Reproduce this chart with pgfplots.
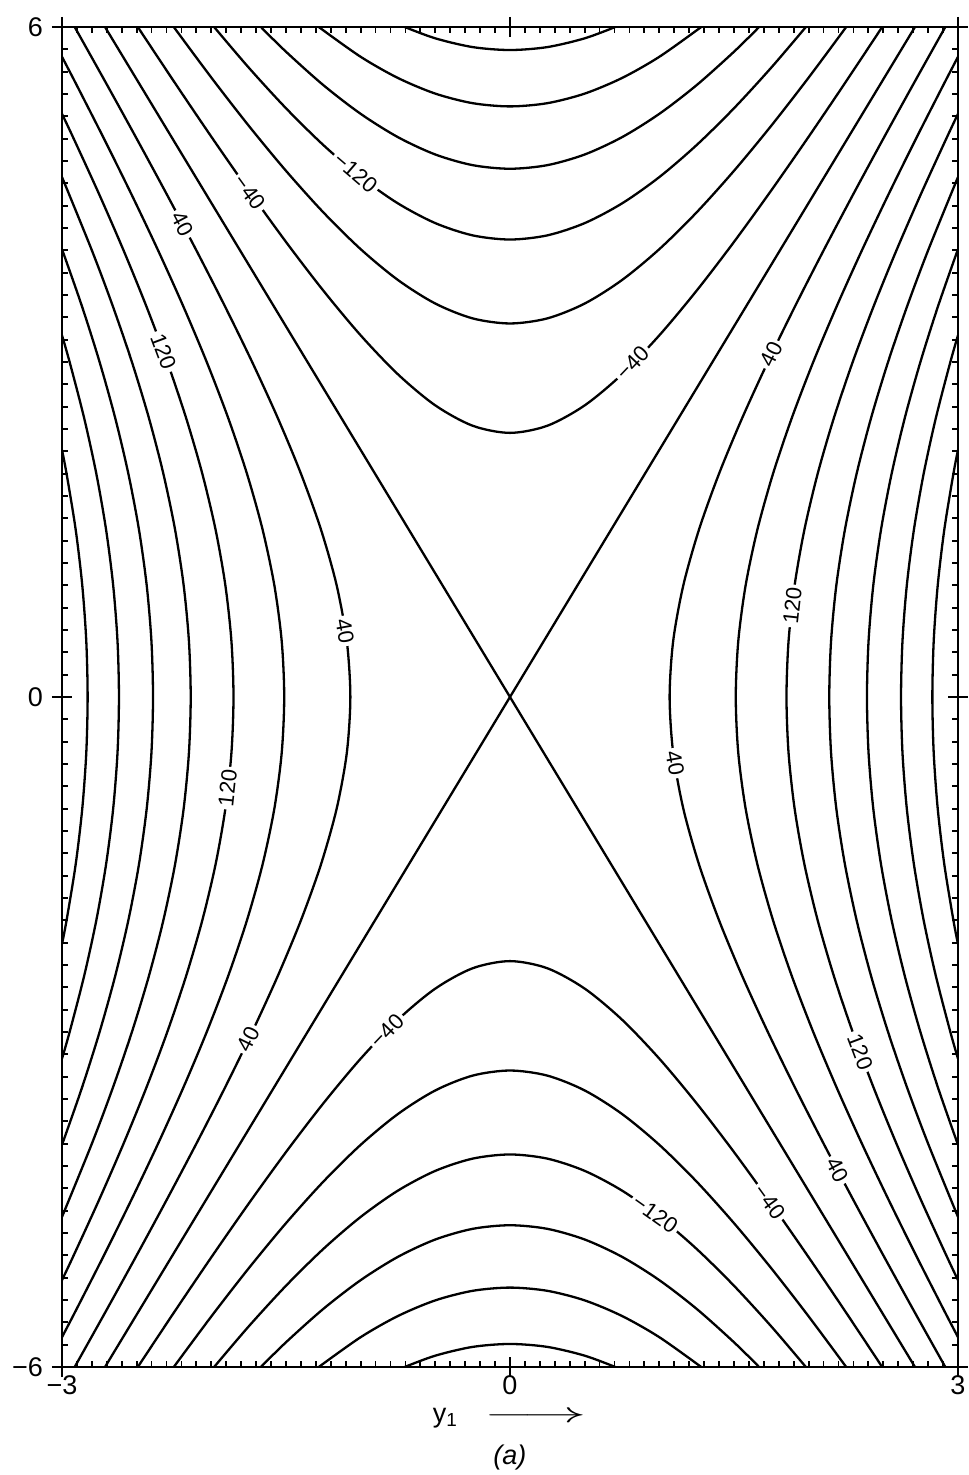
\documentclass[border=0pt]{standalone}
\usepackage{pgfplots}
\pgfplotsset{compat=1.18}
\usepackage{fontspec}
\setmainfont{Liberation Sans}
\usepackage{graphicx}

% contour label on a level curve
\tikzset{clab/.style={sloped, fill=white, inner sep=1.5pt, text=black,
  font=\fontsize{11}{12}\selectfont}}

\begin{document}
\begin{tikzpicture}
\begin{axis}[
  scale only axis,
  width=448pt, height=670pt,
  xmin=-3, xmax=3, ymin=-6, ymax=6,
  axis line style={line width=1.3pt},
  xtick={-3,0,3}, xticklabels={−3,0,3},
  ytick={-6,0,6}, yticklabels={−6,0,6},
  minor x tick num=29, minor y tick num=29,
  tick align=inside,
  major tick length=5pt, minor tick length=3pt,
  tick style={line width=0.9pt, black},
  extra x ticks={-3,0,3}, extra x tick labels={},
  extra x tick style={tick align=outside},
  extra y ticks={-6,0,6}, extra y tick labels={},
  extra y tick style={tick align=outside},
  ticklabel style={font=\fontsize{13.5}{15}\selectfont},
  xticklabel style={yshift=-1pt},
  yticklabel style={xshift=-6pt},
  xlabel={y\textsubscript{1}\quad\scalebox{2.2}[1]{$\longrightarrow$}\\[6pt]\textit{(a)}},
  xlabel style={align=center, font=\fontsize{13.5}{15}\selectfont, yshift=5.5pt},
  every axis plot post/.append style={black, solid, line width=1.15pt, smooth, mark=none},
]

% ---- positive levels, side branches (y1 as function of y2) ----
% level 40
\addplot coordinates {(-2.9150,-6) (-2.7060,-5.5) (-2.5000,-5) (-2.2977,-4.5) (-2.1003,-4) (-1.9093,-3.5) (-1.7267,-3) (-1.5555,-2.5) (-1.4000,-2) (-1.2659,-1.5) (-1.1607,-1) (-1.0927,-0.5) (-1.0690,0) (-1.0927,0.5) (-1.1607,1) (-1.2659,1.5) (-1.4000,2) (-1.5555,2.5) (-1.7267,3) (-1.9093,3.5) (-2.1003,4) (-2.2977,4.5) (-2.5000,5) (-2.7060,5.5) (-2.9150,6)}
  node[clab, pos=0.25] {40} node[clab, pos=0.547] {40} node[clab, pos=0.849] {40};
\addplot coordinates {(2.9150,-6) (2.7060,-5.5) (2.5000,-5) (2.2977,-4.5) (2.1003,-4) (1.9093,-3.5) (1.7267,-3) (1.5555,-2.5) (1.4000,-2) (1.2659,-1.5) (1.1607,-1) (1.0927,-0.5) (1.0690,0) (1.0927,0.5) (1.1607,1) (1.2659,1.5) (1.4000,2) (1.5555,2.5) (1.7267,3) (1.9093,3.5) (2.1003,4) (2.2977,4.5) (2.5000,5) (2.7060,5.5) (2.9150,6)}
  node[clab, pos=0.151] {40} node[clab, pos=0.453] {40} node[clab, pos=0.75] {40};
% level 80
\addplot coordinates {(-3,-5.733) (-2.9095,-5.5) (-2.7190,-5) (-2.5343,-4.5) (-2.3567,-4) (-2.1882,-3.5) (-2.0308,-3) (-1.8875,-2.5) (-1.7615,-2) (-1.6569,-1.5) (-1.5780,-1) (-1.5287,-0.5) (-1.5119,0) (-1.5287,0.5) (-1.5780,1) (-1.6569,1.5) (-1.7615,2) (-1.8875,2.5) (-2.0308,3) (-2.1882,3.5) (-2.3567,4) (-2.5343,4.5) (-2.7190,5) (-2.9095,5.5) (-3,5.733)};
\addplot coordinates {(3,-5.733) (2.9095,-5.5) (2.7190,-5) (2.5343,-4.5) (2.3567,-4) (2.1882,-3.5) (2.0308,-3) (1.8875,-2.5) (1.7615,-2) (1.6569,-1.5) (1.5780,-1) (1.5287,-0.5) (1.5119,0) (1.5287,0.5) (1.5780,1) (1.6569,1.5) (1.7615,2) (1.8875,2.5) (2.0308,3) (2.1882,3.5) (2.3567,4) (2.5343,4.5) (2.7190,5) (2.9095,5.5) (3,5.733)};
% level 120
\addplot coordinates {(-3,-5.2223) (-2.9216,-5) (-2.7505,-4.5) (-2.5879,-4) (-2.4354,-3.5) (-2.2950,-3) (-2.1692,-2.5) (-2.0605,-2) (-1.9718,-1.5) (-1.9060,-1) (-1.8654,-0.5) (-1.8516,0) (-1.8654,0.5) (-1.9060,1) (-1.9718,1.5) (-2.0605,2) (-2.1692,2.5) (-2.2950,3) (-2.4354,3.5) (-2.5879,4) (-2.7505,4.5) (-2.9216,5) (-3,5.2223)}
  node[clab, pos=0.424] {120} node[clab, pos=0.792] {120};
\addplot coordinates {(3,-5.2223) (2.9216,-5) (2.7505,-4.5) (2.5879,-4) (2.4354,-3.5) (2.2950,-3) (2.1692,-2.5) (2.0605,-2) (1.9718,-1.5) (1.9060,-1) (1.8654,-0.5) (1.8516,0) (1.8654,0.5) (1.9060,1) (1.9718,1.5) (2.0605,2) (2.1692,2.5) (2.2950,3) (2.4354,3.5) (2.5879,4) (2.7505,4.5) (2.9216,5) (3,5.2223)}
  node[clab, pos=0.20] {120} node[clab, pos=0.576] {120};
% level 160
\addplot coordinates {(-3,-4.656) (-2.8000,-4) (-2.6597,-3.5) (-2.5318,-3) (-2.4183,-2.5) (-2.3213,-2) (-2.2430,-1.5) (-2.1853,-1) (-2.1500,-0.5) (-2.1381,0) (-2.1500,0.5) (-2.1853,1) (-2.2430,1.5) (-2.3213,2) (-2.4183,2.5) (-2.5318,3) (-2.6597,3.5) (-2.8000,4) (-3,4.656)};
\addplot coordinates {(3,-4.656) (2.8000,-4) (2.6597,-3.5) (2.5318,-3) (2.4183,-2.5) (2.3213,-2) (2.2430,-1.5) (2.1853,-1) (2.1500,-0.5) (2.1381,0) (2.1500,0.5) (2.1853,1) (2.2430,1.5) (2.3213,2) (2.4183,2.5) (2.5318,3) (2.6597,3.5) (2.8000,4) (3,4.656)};
% level 200
\addplot coordinates {(-3,-4.0105) (-2.8665,-3.5) (-2.7483,-3) (-2.6440,-2.5) (-2.5557,-2) (-2.4847,-1.5) (-2.4328,-1) (-2.4011,-0.5) (-2.3905,0) (-2.4011,0.5) (-2.4328,1) (-2.4847,1.5) (-2.5557,2) (-2.6440,2.5) (-2.7483,3) (-2.8665,3.5) (-3,4.0105)};
\addplot coordinates {(3,-4.0105) (2.8665,-3.5) (2.7483,-3) (2.6440,-2.5) (2.5557,-2) (2.4847,-1.5) (2.4328,-1) (2.4011,-0.5) (2.3905,0) (2.4011,0.5) (2.4328,1) (2.4847,1.5) (2.5557,2) (2.6440,2.5) (2.7483,3) (2.8665,3.5) (3,4.0105)};
% level 240
\addplot coordinates {(-3,-3.2388) (-2.9489,-3) (-2.8520,-2.5) (-2.7702,-2) (-2.7050,-1.5) (-2.6573,-1) (-2.6283,-0.5) (-2.6186,0) (-2.6283,0.5) (-2.6573,1) (-2.7050,1.5) (-2.7702,2) (-2.8520,2.5) (-2.9489,3) (-3,3.2388)};
\addplot coordinates {(3,-3.2388) (2.9489,-3) (2.8520,-2.5) (2.7702,-2) (2.7050,-1.5) (2.6573,-1) (2.6283,-0.5) (2.6186,0) (2.6283,0.5) (2.6573,1) (2.7050,1.5) (2.7702,2) (2.8520,2.5) (2.9489,3) (3,3.2388)};
% level 280
\addplot coordinates {(-3,-2.2125) (-2.9694,-2) (-2.9085,-1.5) (-2.8643,-1) (-2.8374,-0.5) (-2.8284,0) (-2.8374,0.5) (-2.8643,1) (-2.9085,1.5) (-2.9694,2) (-3,2.2125)};
\addplot coordinates {(3,-2.2125) (2.9694,-2) (2.9085,-1.5) (2.8643,-1) (2.8374,-0.5) (2.8284,0) (2.8374,0.5) (2.8643,1) (2.9085,1.5) (2.9694,2) (3,2.2125)};

% ---- level 0: the two asymptotes ----
\addplot coordinates {(-2.7119,6) (2.7119,-6)};
\addplot coordinates {(-2.7119,-6) (2.7119,6)};

% ---- negative levels, upper and lower branches (y2 as function of y1) ----
% level -40
\addplot coordinates {(-2.4923,6) (-2.25,5.5114) (-2,5.0174) (-1.75,4.5372) (-1.5,4.0753) (-1.25,3.6391) (-1,3.2388) (-0.75,2.8893) (-0.5,2.6112) (-0.25,2.4291) (0,2.3653) (0.25,2.4291) (0.5,2.6112) (0.75,2.8893) (1,3.2388) (1.25,3.6391) (1.5,4.0753) (1.75,4.5372) (2,5.0174) (2.25,5.5114) (2.4923,6)}
  node[clab, pos=0.184] {−40} node[clab, pos=0.618] {−40};
\addplot coordinates {(-2.4923,-6) (-2.25,-5.5114) (-2,-5.0174) (-1.75,-4.5372) (-1.5,-4.0753) (-1.25,-3.6391) (-1,-3.2388) (-0.75,-2.8893) (-0.5,-2.6112) (-0.25,-2.4291) (0,-2.3653) (0.25,-2.4291) (0.5,-2.6112) (0.75,-2.8893) (1,-3.2388) (1.25,-3.6391) (1.5,-4.0753) (1.75,-4.5372) (2,-5.0174) (2.25,-5.5114) (2.4923,-6)}
  node[clab, pos=0.382] {−40} node[clab, pos=0.816] {−40};
% level -80
\addplot coordinates {(-2.2514,6) (-2,5.5470) (-1.75,5.1166) (-1.5,4.7120) (-1.25,4.3402) (-1,4.0105) (-0.75,3.7339) (-0.5,3.5232) (-0.25,3.3904) (0,3.3450) (0.25,3.3904) (0.5,3.5232) (0.75,3.7339) (1,4.0105) (1.25,4.3402) (1.5,4.7120) (1.75,5.1166) (2,5.5470) (2.2514,6)};
\addplot coordinates {(-2.2514,-6) (-2,-5.5470) (-1.75,-5.1166) (-1.5,-4.7120) (-1.25,-4.3402) (-1,-4.0105) (-0.75,-3.7339) (-0.5,-3.5232) (-0.25,-3.3904) (0,-3.3450) (0.25,-3.3904) (0.5,-3.5232) (0.75,-3.7339) (1,-4.0105) (1.25,-4.3402) (1.5,-4.7120) (1.75,-5.1166) (2,-5.5470) (2.2514,-6)};
% level -120
\addplot coordinates {(-1.9813,6) (-1.75,5.6369) (-1.5,5.2723) (-1.25,4.9429) (-1,4.6560) (-0.75,4.4200) (-0.5,4.2435) (-0.25,4.1339) (0,4.0967) (0.25,4.1339) (0.5,4.2435) (0.75,4.4200) (1,4.6560) (1.25,4.9429) (1.5,5.2723) (1.75,5.6369) (1.9813,6)}
  node[clab, pos=0.284] {−120};
\addplot coordinates {(-1.9813,-6) (-1.75,-5.6369) (-1.5,-5.2723) (-1.25,-4.9429) (-1,-4.6560) (-0.75,-4.4200) (-0.5,-4.2435) (-0.25,-4.1339) (0,-4.0967) (0.25,-4.1339) (0.5,-4.2435) (0.75,-4.4200) (1,-4.6560) (1.25,-4.9429) (1.5,-5.2723) (1.75,-5.6369) (1.9813,-6)}
  node[clab, pos=0.70] {−120};
% level -160
\addplot coordinates {(-1.6682,6) (-1.5,5.7785) (-1.25,5.4796) (-1,5.2223) (-0.75,5.0131) (-0.5,4.8581) (-0.25,4.7627) (0,4.7305) (0.25,4.7627) (0.5,4.8581) (0.75,5.0131) (1,5.2223) (1.25,5.4796) (1.5,5.7785) (1.6682,6)};
\addplot coordinates {(-1.6682,-6) (-1.5,-5.7785) (-1.25,-5.4796) (-1,-5.2223) (-0.75,-5.0131) (-0.5,-4.8581) (-0.25,-4.7627) (0,-4.7305) (0.25,-4.7627) (0.5,-4.8581) (0.75,-5.0131) (1,-5.2223) (1.25,-5.4796) (1.5,-5.7785) (1.6682,-6)};
% level -200
\addplot coordinates {(-1.2806,6) (-1,5.7330) (-0.75,5.5431) (-0.5,5.4033) (-0.25,5.3177) (0,5.2889) (0.25,5.3177) (0.5,5.4033) (0.75,5.5431) (1,5.7330) (1.2806,6)};
\addplot coordinates {(-1.2806,-6) (-1,-5.7330) (-0.75,-5.5431) (-0.5,-5.4033) (-0.25,-5.3177) (0,-5.2889) (0.25,-5.3177) (0.5,-5.4033) (0.75,-5.5431) (1,-5.7330) (1.2806,-6)};
% level -240
\addplot coordinates {(-0.7051,6) (-0.5,5.8983) (-0.25,5.8200) (0,5.7937) (0.25,5.8200) (0.5,5.8983) (0.7051,6)};
\addplot coordinates {(-0.7051,-6) (-0.5,-5.8983) (-0.25,-5.8200) (0,-5.7937) (0.25,-5.8200) (0.5,-5.8983) (0.7051,-6)};

\coordinate (sw) at (rel axis cs:0,0);
\coordinate (ne) at (rel axis cs:1,1);
\end{axis}
\pgfresetboundingbox
\path ([shift={(-31pt,-54pt)}]sw) rectangle ([shift={(5.5pt,13.5pt)}]ne);
\end{tikzpicture}
\end{document}
